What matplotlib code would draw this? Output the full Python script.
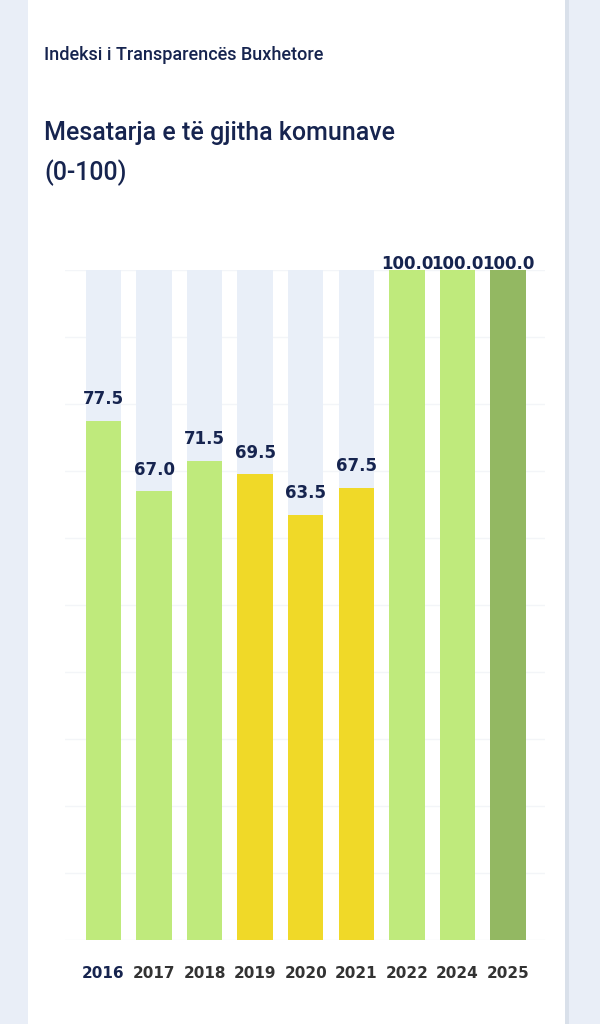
import matplotlib
matplotlib.use("Agg")
import matplotlib.pyplot as plt
from matplotlib.patches import Rectangle

# data
years = ["2016", "2017", "2018", "2019", "2020", "2021", "2022", "2024", "2025"]
scores = [77.5, 67.0, 71.5, 69.5, 63.5, 67.5, 100.0, 100.0, 100.0]
bar_colors = ["#bfea7c", "#bfea7c", "#bfea7c", "#f0d928", "#f0d928",
              "#f0d928", "#bfea7c", "#bfea7c", "#93b862"]
max_score = 100

NAVY = "#16244f"
W, H = 600, 1024

fig = plt.figure(figsize=(W / 100, H / 100), dpi=100, facecolor="#e9eef7")

# white card behind everything
card = Rectangle((28 / W, 0), (565 - 28) / W, 1, transform=fig.transFigure,
                 facecolor="white", edgecolor="none", zorder=-2)
fig.patches.append(card)
shadow = Rectangle((565 / W, 0), 4 / W, 1, transform=fig.transFigure,
                   facecolor="#d9e0ea", edgecolor="none", zorder=-2)
fig.patches.append(shadow)

fig.text(44 / W, 1 - 55 / H, "Indeksi i Transparencës Buxhetore", fontsize=13,
         fontfamily="Roboto", fontweight="medium", color=NAVY, va="center")
fig.text(44 / W, 1 - 133 / H, "Mesatarja e të gjitha komunave", fontsize=18,
         fontfamily="Roboto", fontweight="medium", color=NAVY, va="center")
fig.text(44 / W, 1 - 173 / H, "(0-100)", fontsize=18,
         fontfamily="Roboto", fontweight="medium", color=NAVY, va="center")

ax = fig.add_axes([65 / W, 1 - 940 / H, 480 / W, 670 / H], zorder=1)
ax.set_facecolor("none")

x = list(range(len(years)))
ax.bar(x, [max_score] * len(x), width=0.7, color="#e9eff8", zorder=1)
bars = ax.bar(x, scores, width=0.7, color=bar_colors, zorder=2)

for rect, val in zip(bars, scores):
    # labels of full bars are clamped down onto the bar top
    off = 9 if val < max_score else -2
    ax.annotate(f"{val:.1f}", (rect.get_x() + rect.get_width() / 2, val),
                xytext=(0, off), textcoords="offset points", ha="center", va="bottom",
                fontsize=12, fontfamily="DejaVu Sans", fontweight="bold", color=NAVY,
                zorder=3, annotation_clip=False)

ax.set_xlim(-0.76, 8.73)
ax.set_ylim(0, 100)
ax.set_yticks(range(0, 101, 10))
ax.yaxis.grid(True, color="#f3f5f8", linewidth=1)
ax.set_axisbelow(True)
ax.tick_params(axis="y", left=False, labelleft=False)
ax.tick_params(axis="x", bottom=False, pad=15)
ax.set_xticks(x)
ax.set_xticklabels(years, fontsize=11, fontfamily="DejaVu Sans", fontweight="bold", color="#333333")
ax.get_xticklabels()[0].set_color(NAVY)
for s in ax.spines.values():
    s.set_visible(False)

fig.savefig("out.png", dpi=100, facecolor=fig.get_facecolor())
